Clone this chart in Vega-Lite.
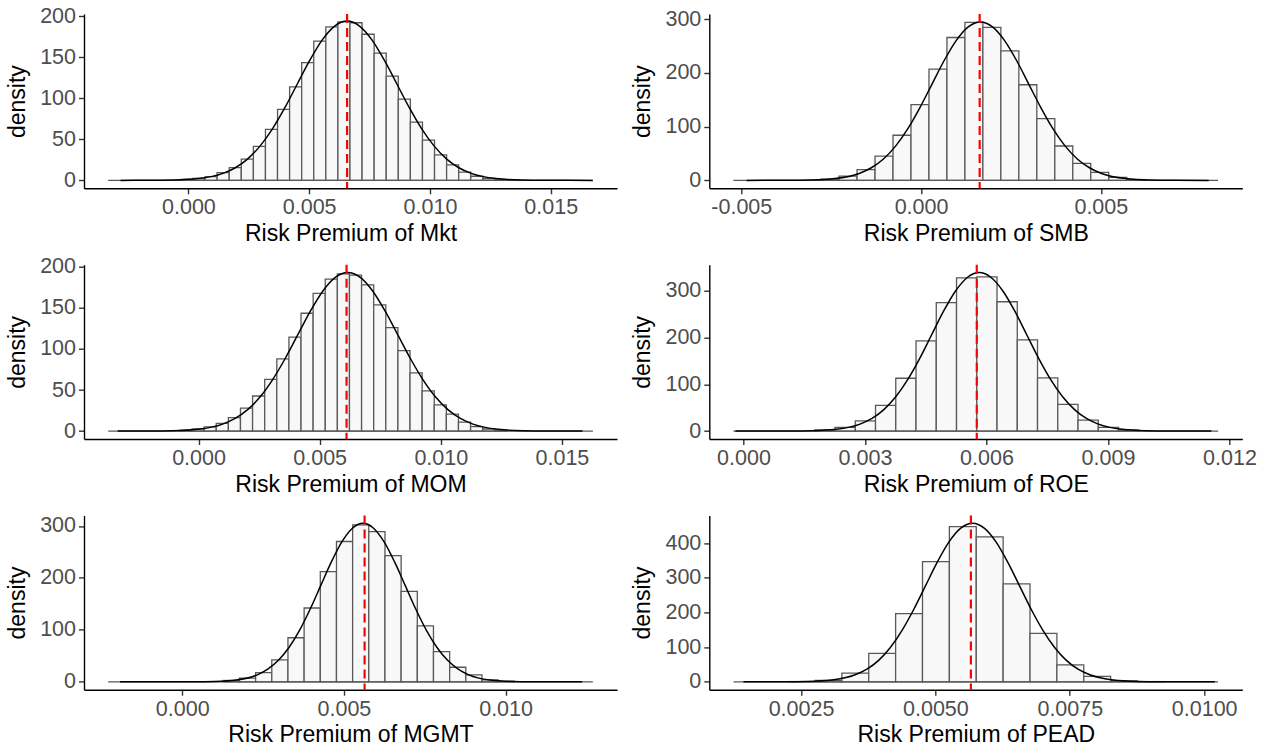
{
"$schema": "https://vega.github.io/schema/vega-lite/v6.json",
"background": "white",
"padding": {"left": 6, "top": 5, "right": 0, "bottom": 0},
"columns": 2,
"spacing": {"row": 75.7, "column": 92.3},
"bounds": "flush",
"config": {
 "view": {"stroke": null},
 "font": "Liberation Sans",
 "axis": {"grid": false, "domainColor": "#000000", "domainWidth": 1.4, "tickColor": "#333333", "tickWidth": 1.4, "tickSize": 5.5, "labelColor": "#4d4d4d", "labelFontSize": 21.5, "labelFont": "Liberation Sans", "labelPadding": 3, "labelFlush": false, "labelOverlap": false, "labelBound": false, "titleFont": "Liberation Sans", "titleFontSize": 23, "titleFontWeight": "normal", "titleColor": "#000000"},
 "axisX": {"titlePadding": 4},
 "axisY": {"titlePadding": 10}
},
"datasets": {
 "bars": [
  {"p":"Mkt","a":-0.00031,"b":0.00019,"d":1.1},{"p":"Mkt","a":0.00019,"b":0.00069,"d":2.3},{"p":"Mkt","a":0.00069,"b":0.00119,"d":4.6},{"p":"Mkt","a":0.00119,"b":0.00169,"d":9.5},{"p":"Mkt","a":0.00169,"b":0.00219,"d":15.5},{"p":"Mkt","a":0.00219,"b":0.00269,"d":26},{"p":"Mkt","a":0.00269,"b":0.00319,"d":41.5},{"p":"Mkt","a":0.00319,"b":0.00369,"d":62},{"p":"Mkt","a":0.00369,"b":0.00419,"d":86.5},{"p":"Mkt","a":0.00419,"b":0.00469,"d":114},{"p":"Mkt","a":0.00469,"b":0.00519,"d":143.5},{"p":"Mkt","a":0.00519,"b":0.00569,"d":169.5},{"p":"Mkt","a":0.00569,"b":0.00619,"d":187},{"p":"Mkt","a":0.00619,"b":0.00669,"d":193},{"p":"Mkt","a":0.00669,"b":0.00719,"d":192},{"p":"Mkt","a":0.00719,"b":0.00769,"d":178},{"p":"Mkt","a":0.00769,"b":0.00819,"d":155},{"p":"Mkt","a":0.00819,"b":0.00869,"d":127},{"p":"Mkt","a":0.00869,"b":0.00919,"d":99},{"p":"Mkt","a":0.00919,"b":0.00969,"d":71},{"p":"Mkt","a":0.00969,"b":0.01019,"d":49},{"p":"Mkt","a":0.01019,"b":0.01069,"d":31},{"p":"Mkt","a":0.01069,"b":0.01119,"d":19},{"p":"Mkt","a":0.01119,"b":0.01169,"d":10},{"p":"Mkt","a":0.01169,"b":0.01219,"d":5},{"p":"Mkt","a":0.01219,"b":0.01269,"d":2.3},{"p":"Mkt","a":0.01269,"b":0.01319,"d":1},
  {"p":"SMB","a":-0.00278,"b":-0.00228,"d":2.5},{"p":"SMB","a":-0.00228,"b":-0.00178,"d":8},{"p":"SMB","a":-0.00178,"b":-0.00128,"d":20},{"p":"SMB","a":-0.00128,"b":-0.00078,"d":45},{"p":"SMB","a":-0.00078,"b":-0.00028,"d":84},{"p":"SMB","a":-0.00028,"b":0.00022,"d":141},{"p":"SMB","a":0.00022,"b":0.00072,"d":207},{"p":"SMB","a":0.00072,"b":0.00122,"d":266},{"p":"SMB","a":0.00122,"b":0.00172,"d":294},{"p":"SMB","a":0.00172,"b":0.00222,"d":285},{"p":"SMB","a":0.00222,"b":0.00272,"d":241},{"p":"SMB","a":0.00272,"b":0.00322,"d":178},{"p":"SMB","a":0.00322,"b":0.00372,"d":115},{"p":"SMB","a":0.00372,"b":0.00422,"d":64},{"p":"SMB","a":0.00422,"b":0.00472,"d":31.5},{"p":"SMB","a":0.00472,"b":0.00522,"d":15},{"p":"SMB","a":0.00522,"b":0.00572,"d":5.5},{"p":"SMB","a":0.00572,"b":0.00622,"d":1.5},
  {"p":"MOM","a":-0.00077,"b":-0.00027,"d":1},{"p":"MOM","a":-0.00027,"b":0.00023,"d":2.5},{"p":"MOM","a":0.00023,"b":0.00073,"d":5},{"p":"MOM","a":0.00073,"b":0.00123,"d":9.5},{"p":"MOM","a":0.00123,"b":0.00173,"d":16.5},{"p":"MOM","a":0.00173,"b":0.00223,"d":28},{"p":"MOM","a":0.00223,"b":0.00273,"d":42.7},{"p":"MOM","a":0.00273,"b":0.00323,"d":63},{"p":"MOM","a":0.00323,"b":0.00373,"d":88},{"p":"MOM","a":0.00373,"b":0.00423,"d":114.5},{"p":"MOM","a":0.00423,"b":0.00473,"d":143.5},{"p":"MOM","a":0.00473,"b":0.00523,"d":167.7},{"p":"MOM","a":0.00523,"b":0.00573,"d":185},{"p":"MOM","a":0.00573,"b":0.00623,"d":191.5},{"p":"MOM","a":0.00623,"b":0.00673,"d":190},{"p":"MOM","a":0.00673,"b":0.00723,"d":178},{"p":"MOM","a":0.00723,"b":0.00773,"d":153.6},{"p":"MOM","a":0.00773,"b":0.00823,"d":126},{"p":"MOM","a":0.00823,"b":0.00873,"d":98},{"p":"MOM","a":0.00873,"b":0.00923,"d":71},{"p":"MOM","a":0.00923,"b":0.00973,"d":49},{"p":"MOM","a":0.00973,"b":0.01023,"d":32},{"p":"MOM","a":0.01023,"b":0.01073,"d":20.6},{"p":"MOM","a":0.01073,"b":0.01123,"d":11},{"p":"MOM","a":0.01123,"b":0.01173,"d":5.5},{"p":"MOM","a":0.01173,"b":0.01223,"d":2.5},{"p":"MOM","a":0.01223,"b":0.01273,"d":1},
  {"p":"ROE","a":0.00176,"b":0.00226,"d":2.5},{"p":"ROE","a":0.00226,"b":0.00276,"d":7.8},{"p":"ROE","a":0.00276,"b":0.00326,"d":22},{"p":"ROE","a":0.00326,"b":0.00376,"d":55},{"p":"ROE","a":0.00376,"b":0.00426,"d":113},{"p":"ROE","a":0.00426,"b":0.00476,"d":193},{"p":"ROE","a":0.00476,"b":0.00526,"d":274.6},{"p":"ROE","a":0.00526,"b":0.00576,"d":327.7},{"p":"ROE","a":0.00576,"b":0.00626,"d":329.8},{"p":"ROE","a":0.00626,"b":0.00676,"d":276.7},{"p":"ROE","a":0.00676,"b":0.00726,"d":195},{"p":"ROE","a":0.00726,"b":0.00776,"d":114},{"p":"ROE","a":0.00776,"b":0.00826,"d":57.3},{"p":"ROE","a":0.00826,"b":0.00876,"d":23.4},{"p":"ROE","a":0.00876,"b":0.00926,"d":7.8},{"p":"ROE","a":0.00926,"b":0.00976,"d":2.2},
  {"p":"MGMT","a":0.00127,"b":0.00177,"d":2.5},{"p":"MGMT","a":0.00177,"b":0.00227,"d":7},{"p":"MGMT","a":0.00227,"b":0.00277,"d":17.8},{"p":"MGMT","a":0.00277,"b":0.00327,"d":42},{"p":"MGMT","a":0.00327,"b":0.00377,"d":84.7},{"p":"MGMT","a":0.00377,"b":0.00427,"d":142},{"p":"MGMT","a":0.00427,"b":0.00477,"d":212},{"p":"MGMT","a":0.00477,"b":0.00527,"d":270},{"p":"MGMT","a":0.00527,"b":0.00577,"d":302},{"p":"MGMT","a":0.00577,"b":0.00627,"d":289},{"p":"MGMT","a":0.00627,"b":0.00677,"d":242.7},{"p":"MGMT","a":0.00677,"b":0.00727,"d":173.9},{"p":"MGMT","a":0.00727,"b":0.00777,"d":107.6},{"p":"MGMT","a":0.00777,"b":0.00827,"d":58},{"p":"MGMT","a":0.00827,"b":0.00877,"d":28},{"p":"MGMT","a":0.00877,"b":0.00927,"d":13.4},{"p":"MGMT","a":0.00927,"b":0.00977,"d":3.8},{"p":"MGMT","a":0.00977,"b":0.01027,"d":1.2},
  {"p":"PEAD","a":0.00226,"b":0.00276,"d":0.6},{"p":"PEAD","a":0.00276,"b":0.00326,"d":3.8},{"p":"PEAD","a":0.00326,"b":0.00376,"d":24.8},{"p":"PEAD","a":0.00376,"b":0.00426,"d":82},{"p":"PEAD","a":0.00426,"b":0.00476,"d":196.7},{"p":"PEAD","a":0.00476,"b":0.00526,"d":346.5},{"p":"PEAD","a":0.00526,"b":0.00576,"d":447.7},{"p":"PEAD","a":0.00576,"b":0.00626,"d":418},{"p":"PEAD","a":0.00626,"b":0.00676,"d":282.6},{"p":"PEAD","a":0.00676,"b":0.00726,"d":139.4},{"p":"PEAD","a":0.00726,"b":0.00776,"d":48.7},{"p":"PEAD","a":0.00776,"b":0.00826,"d":15.3},{"p":"PEAD","a":0.00826,"b":0.00876,"d":2.9},{"p":"PEAD","a":0.00876,"b":0.00926,"d":0.5}
 ],
 "dens": [
  {"p":"Mkt","x":-0.00281,"d":0},{"p":"Mkt","x":-0.001654,"d":0.065},{"p":"Mkt","x":-0.000626,"d":0.43},{"p":"Mkt","x":0.000402,"d":2.15},{"p":"Mkt","x":0.00143,"d":8.5},{"p":"Mkt","x":0.001944,"d":15.4},{"p":"Mkt","x":0.002458,"d":26.2},{"p":"Mkt","x":0.002972,"d":42},{"p":"Mkt","x":0.003486,"d":63},{"p":"Mkt","x":0.004,"d":88.8},{"p":"Mkt","x":0.004514,"d":117.7},{"p":"Mkt","x":0.005028,"d":146.4},{"p":"Mkt","x":0.005542,"d":171.2},{"p":"Mkt","x":0.006056,"d":188},{"p":"Mkt","x":0.00657,"d":194},{"p":"Mkt","x":0.007084,"d":188},{"p":"Mkt","x":0.007598,"d":171.2},{"p":"Mkt","x":0.008112,"d":146.4},{"p":"Mkt","x":0.008626,"d":117.7},{"p":"Mkt","x":0.00914,"d":88.8},{"p":"Mkt","x":0.009654,"d":63},{"p":"Mkt","x":0.010168,"d":42},{"p":"Mkt","x":0.010682,"d":26.2},{"p":"Mkt","x":0.011196,"d":15.4},{"p":"Mkt","x":0.01171,"d":8.5},{"p":"Mkt","x":0.012738,"d":2.15},{"p":"Mkt","x":0.013766,"d":0.43},{"p":"Mkt","x":0.014794,"d":0.065},{"p":"Mkt","x":0.01674,"d":0},
  {"p":"SMB","x":-0.004855,"d":0},{"p":"SMB","x":-0.003742,"d":0.1},{"p":"SMB","x":-0.003068,"d":0.65},{"p":"SMB","x":-0.002394,"d":3.3},{"p":"SMB","x":-0.00172,"d":12.9},{"p":"SMB","x":-0.001383,"d":23.5},{"p":"SMB","x":-0.001046,"d":39.9},{"p":"SMB","x":-0.000709,"d":63.8},{"p":"SMB","x":-0.000372,"d":95.8},{"p":"SMB","x":-0.000035,"d":135.1},{"p":"SMB","x":0.000302,"d":178.9},{"p":"SMB","x":0.000639,"d":222.7},{"p":"SMB","x":0.000976,"d":260.3},{"p":"SMB","x":0.001313,"d":285.9},{"p":"SMB","x":0.00165,"d":295},{"p":"SMB","x":0.001987,"d":285.9},{"p":"SMB","x":0.002324,"d":260.3},{"p":"SMB","x":0.002661,"d":222.7},{"p":"SMB","x":0.002998,"d":178.9},{"p":"SMB","x":0.003335,"d":135.1},{"p":"SMB","x":0.003672,"d":95.8},{"p":"SMB","x":0.004009,"d":63.8},{"p":"SMB","x":0.004346,"d":39.9},{"p":"SMB","x":0.004683,"d":23.5},{"p":"SMB","x":0.00502,"d":12.9},{"p":"SMB","x":0.005694,"d":3.3},{"p":"SMB","x":0.006368,"d":0.65},{"p":"SMB","x":0.007042,"d":0.1},{"p":"SMB","x":0.008,"d":0},
  {"p":"MOM","x":-0.00334,"d":0},{"p":"MOM","x":-0.002108,"d":0.065},{"p":"MOM","x":-0.001075,"d":0.42},{"p":"MOM","x":-0.000041,"d":2.14},{"p":"MOM","x":0.000992,"d":8.5},{"p":"MOM","x":0.001509,"d":15.4},{"p":"MOM","x":0.002026,"d":26.1},{"p":"MOM","x":0.002543,"d":41.7},{"p":"MOM","x":0.003059,"d":62.7},{"p":"MOM","x":0.003576,"d":88.4},{"p":"MOM","x":0.004093,"d":117.1},{"p":"MOM","x":0.00461,"d":145.7},{"p":"MOM","x":0.005126,"d":170.3},{"p":"MOM","x":0.005643,"d":187.1},{"p":"MOM","x":0.00616,"d":193},{"p":"MOM","x":0.006677,"d":187.1},{"p":"MOM","x":0.007194,"d":170.3},{"p":"MOM","x":0.00771,"d":145.7},{"p":"MOM","x":0.008227,"d":117.1},{"p":"MOM","x":0.008744,"d":88.4},{"p":"MOM","x":0.009261,"d":62.7},{"p":"MOM","x":0.009777,"d":41.7},{"p":"MOM","x":0.010294,"d":26.1},{"p":"MOM","x":0.010811,"d":15.4},{"p":"MOM","x":0.011328,"d":8.5},{"p":"MOM","x":0.012361,"d":2.14},{"p":"MOM","x":0.013395,"d":0.42},{"p":"MOM","x":0.014428,"d":0.065},{"p":"MOM","x":0.01585,"d":0},
  {"p":"ROE","x":-0.0002,"d":0},{"p":"ROE","x":0.001112,"d":0.11},{"p":"ROE","x":0.0017,"d":0.75},{"p":"ROE","x":0.002289,"d":3.76},{"p":"ROE","x":0.002877,"d":14.9},{"p":"ROE","x":0.003172,"d":27},{"p":"ROE","x":0.003466,"d":45.9},{"p":"ROE","x":0.00376,"d":73.3},{"p":"ROE","x":0.004054,"d":110.1},{"p":"ROE","x":0.004349,"d":155.2},{"p":"ROE","x":0.004643,"d":205.6},{"p":"ROE","x":0.004937,"d":255.9},{"p":"ROE","x":0.005231,"d":299.2},{"p":"ROE","x":0.005526,"d":328.6},{"p":"ROE","x":0.00582,"d":339},{"p":"ROE","x":0.006114,"d":328.6},{"p":"ROE","x":0.006409,"d":299.2},{"p":"ROE","x":0.006703,"d":255.9},{"p":"ROE","x":0.006997,"d":205.6},{"p":"ROE","x":0.007291,"d":155.2},{"p":"ROE","x":0.007586,"d":110.1},{"p":"ROE","x":0.00788,"d":73.3},{"p":"ROE","x":0.008174,"d":45.9},{"p":"ROE","x":0.008468,"d":27},{"p":"ROE","x":0.008763,"d":14.9},{"p":"ROE","x":0.009351,"d":3.76},{"p":"ROE","x":0.00994,"d":0.75},{"p":"ROE","x":0.010528,"d":0.11},{"p":"ROE","x":0.01155,"d":0},
  {"p":"MGMT","x":-0.001923,"d":0},{"p":"MGMT","x":0.000358,"d":0.1},{"p":"MGMT","x":0.001012,"d":0.67},{"p":"MGMT","x":0.001666,"d":3.39},{"p":"MGMT","x":0.00232,"d":13.4},{"p":"MGMT","x":0.002647,"d":24.3},{"p":"MGMT","x":0.002974,"d":41.3},{"p":"MGMT","x":0.003301,"d":66},{"p":"MGMT","x":0.003628,"d":99},{"p":"MGMT","x":0.003955,"d":139.6},{"p":"MGMT","x":0.004282,"d":185},{"p":"MGMT","x":0.004609,"d":230.2},{"p":"MGMT","x":0.004936,"d":269.2},{"p":"MGMT","x":0.005263,"d":295.6},{"p":"MGMT","x":0.00559,"d":305},{"p":"MGMT","x":0.005917,"d":295.6},{"p":"MGMT","x":0.006244,"d":269.2},{"p":"MGMT","x":0.006571,"d":230.2},{"p":"MGMT","x":0.006898,"d":185},{"p":"MGMT","x":0.007225,"d":139.6},{"p":"MGMT","x":0.007552,"d":99},{"p":"MGMT","x":0.007879,"d":66},{"p":"MGMT","x":0.008206,"d":41.3},{"p":"MGMT","x":0.008533,"d":24.3},{"p":"MGMT","x":0.00886,"d":13.4},{"p":"MGMT","x":0.009514,"d":3.39},{"p":"MGMT","x":0.010168,"d":0.67},{"p":"MGMT","x":0.010822,"d":0.1},{"p":"MGMT","x":0.01237,"d":0},
  {"p":"PEAD","x":0.001429,"d":0},{"p":"PEAD","x":0.002198,"d":0.15},{"p":"PEAD","x":0.002634,"d":1},{"p":"PEAD","x":0.003071,"d":5.07},{"p":"PEAD","x":0.003507,"d":20.1},{"p":"PEAD","x":0.003726,"d":36.4},{"p":"PEAD","x":0.003944,"d":61.8},{"p":"PEAD","x":0.004162,"d":98.8},{"p":"PEAD","x":0.00438,"d":148.4},{"p":"PEAD","x":0.004599,"d":209.2},{"p":"PEAD","x":0.004817,"d":277.2},{"p":"PEAD","x":0.005035,"d":344.9},{"p":"PEAD","x":0.005253,"d":403.3},{"p":"PEAD","x":0.005472,"d":442.9},{"p":"PEAD","x":0.00569,"d":457},{"p":"PEAD","x":0.005908,"d":442.9},{"p":"PEAD","x":0.006127,"d":403.3},{"p":"PEAD","x":0.006345,"d":344.9},{"p":"PEAD","x":0.006563,"d":277.2},{"p":"PEAD","x":0.006781,"d":209.2},{"p":"PEAD","x":0.007,"d":148.4},{"p":"PEAD","x":0.007218,"d":98.8},{"p":"PEAD","x":0.007436,"d":61.8},{"p":"PEAD","x":0.007654,"d":36.4},{"p":"PEAD","x":0.007873,"d":20.1},{"p":"PEAD","x":0.008309,"d":5.07},{"p":"PEAD","x":0.008746,"d":1},{"p":"PEAD","x":0.009182,"d":0.15},{"p":"PEAD","x":0.010198,"d":0}
 ],
 "meta": [
  {"p":"Mkt","lo":-0.00332,"hi":0.01674,"m":0.00657},
  {"p":"SMB","lo":-0.00522,"hi":0.00826,"m":0.00163},
  {"p":"MOM","lo":-0.00373,"hi":0.01628,"m":0.00611},
  {"p":"ROE","lo":-0.00025,"hi":0.01172,"m":0.00576},
  {"p":"MGMT","lo":-0.00229,"hi":0.0127,"m":0.00564},
  {"p":"PEAD","lo":0.001245,"hi":0.010258,"m":0.00566}
 ]
},
"concat": [
 {"width": 533, "height": 174.3, "layer": [
  {"data": {"name": "bars"}, "transform": [{"filter": "datum.p === 'Mkt'"}], "mark": {"type": "rect", "fill": "#f8f8f8", "stroke": "#595959", "strokeWidth": 1.3},
   "encoding": {"x": {"field": "a", "type": "quantitative", "title": "Risk Premium of Mkt", "scale": {"domain": [-0.004322, 0.017744], "nice": false, "zero": false}, "axis": {"values": [0, 0.005, 0.01, 0.015], "format": ".3f"}}, "x2": {"field": "b"},
    "y": {"field": "d", "type": "quantitative", "title": "density", "scale": {"domain": [-9.65, 202.65], "nice": false, "zero": false}, "axis": {"values": [0, 50, 100, 150, 200]}}, "y2": {"datum": 0}}},
  {"data": {"name": "meta"}, "transform": [{"filter": "datum.p === 'Mkt'"}], "mark": {"type": "rule", "color": "#595959", "strokeWidth": 1.3}, "encoding": {"x": {"field": "lo", "type": "quantitative"}, "x2": {"field": "hi"}, "y": {"datum": 0, "type": "quantitative"}}},
  {"data": {"name": "dens"}, "transform": [{"filter": "datum.p === 'Mkt'"}], "mark": {"type": "line", "color": "#000000", "strokeWidth": 1.5, "interpolate": "monotone"}, "encoding": {"x": {"field": "x", "type": "quantitative"}, "y": {"field": "d", "type": "quantitative"}}},
  {"data": {"name": "meta"}, "transform": [{"filter": "datum.p === 'Mkt'"}], "mark": {"type": "rule", "color": "#ff0000", "strokeWidth": 2.2, "strokeDash": [9, 5]}, "encoding": {"x": {"field": "m", "type": "quantitative"}}}
 ]},
 {"width": 533, "height": 174.3, "layer": [
  {"data": {"name": "bars"}, "transform": [{"filter": "datum.p === 'SMB'"}], "mark": {"type": "rect", "fill": "#f8f8f8", "stroke": "#595959", "strokeWidth": 1.3},
   "encoding": {"x": {"field": "a", "type": "quantitative", "title": "Risk Premium of SMB", "scale": {"domain": [-0.00589, 0.008935], "nice": false, "zero": false}, "axis": {"values": [-0.005, 0, 0.005], "labelExpr": "datum.value < 0 ? '-' + format(-datum.value, '.3f') : format(datum.value, '.3f')"}}, "x2": {"field": "b"},
    "y": {"field": "d", "type": "quantitative", "title": "density", "scale": {"domain": [-14.75, 309.75], "nice": false, "zero": false}, "axis": {"values": [0, 100, 200, 300]}}, "y2": {"datum": 0}}},
  {"data": {"name": "meta"}, "transform": [{"filter": "datum.p === 'SMB'"}], "mark": {"type": "rule", "color": "#595959", "strokeWidth": 1.3}, "encoding": {"x": {"field": "lo", "type": "quantitative"}, "x2": {"field": "hi"}, "y": {"datum": 0, "type": "quantitative"}}},
  {"data": {"name": "dens"}, "transform": [{"filter": "datum.p === 'SMB'"}], "mark": {"type": "line", "color": "#000000", "strokeWidth": 1.5, "interpolate": "monotone"}, "encoding": {"x": {"field": "x", "type": "quantitative"}, "y": {"field": "d", "type": "quantitative"}}},
  {"data": {"name": "meta"}, "transform": [{"filter": "datum.p === 'SMB'"}], "mark": {"type": "rule", "color": "#ff0000", "strokeWidth": 2.2, "strokeDash": [9, 5]}, "encoding": {"x": {"field": "m", "type": "quantitative"}}}
 ]},
 {"width": 533, "height": 174.3, "layer": [
  {"data": {"name": "bars"}, "transform": [{"filter": "datum.p === 'MOM'"}], "mark": {"type": "rect", "fill": "#f8f8f8", "stroke": "#595959", "strokeWidth": 1.3},
   "encoding": {"x": {"field": "a", "type": "quantitative", "title": "Risk Premium of MOM", "scale": {"domain": [-0.00473, 0.017275], "nice": false, "zero": false}, "axis": {"values": [0, 0.005, 0.01, 0.015], "format": ".3f"}}, "x2": {"field": "b"},
    "y": {"field": "d", "type": "quantitative", "title": "density", "scale": {"domain": [-9.65, 202.65], "nice": false, "zero": false}, "axis": {"values": [0, 50, 100, 150, 200]}}, "y2": {"datum": 0}}},
  {"data": {"name": "meta"}, "transform": [{"filter": "datum.p === 'MOM'"}], "mark": {"type": "rule", "color": "#595959", "strokeWidth": 1.3}, "encoding": {"x": {"field": "lo", "type": "quantitative"}, "x2": {"field": "hi"}, "y": {"datum": 0, "type": "quantitative"}}},
  {"data": {"name": "dens"}, "transform": [{"filter": "datum.p === 'MOM'"}], "mark": {"type": "line", "color": "#000000", "strokeWidth": 1.5, "interpolate": "monotone"}, "encoding": {"x": {"field": "x", "type": "quantitative"}, "y": {"field": "d", "type": "quantitative"}}},
  {"data": {"name": "meta"}, "transform": [{"filter": "datum.p === 'MOM'"}], "mark": {"type": "rule", "color": "#ff0000", "strokeWidth": 2.2, "strokeDash": [9, 5]}, "encoding": {"x": {"field": "m", "type": "quantitative"}}}
 ]},
 {"width": 533, "height": 174.3, "layer": [
  {"data": {"name": "bars"}, "transform": [{"filter": "datum.p === 'ROE'"}], "mark": {"type": "rect", "fill": "#f8f8f8", "stroke": "#595959", "strokeWidth": 1.3},
   "encoding": {"x": {"field": "a", "type": "quantitative", "title": "Risk Premium of ROE", "scale": {"domain": [-0.000844, 0.012316], "nice": false, "zero": false}, "axis": {"values": [0, 0.003, 0.006, 0.009, 0.012], "format": ".3f"}}, "x2": {"field": "b"},
    "y": {"field": "d", "type": "quantitative", "title": "density", "scale": {"domain": [-16.95, 355.95], "nice": false, "zero": false}, "axis": {"values": [0, 100, 200, 300]}}, "y2": {"datum": 0}}},
  {"data": {"name": "meta"}, "transform": [{"filter": "datum.p === 'ROE'"}], "mark": {"type": "rule", "color": "#595959", "strokeWidth": 1.3}, "encoding": {"x": {"field": "lo", "type": "quantitative"}, "x2": {"field": "hi"}, "y": {"datum": 0, "type": "quantitative"}}},
  {"data": {"name": "dens"}, "transform": [{"filter": "datum.p === 'ROE'"}], "mark": {"type": "line", "color": "#000000", "strokeWidth": 1.5, "interpolate": "monotone"}, "encoding": {"x": {"field": "x", "type": "quantitative"}, "y": {"field": "d", "type": "quantitative"}}},
  {"data": {"name": "meta"}, "transform": [{"filter": "datum.p === 'ROE'"}], "mark": {"type": "rule", "color": "#ff0000", "strokeWidth": 2.2, "strokeDash": [9, 5]}, "encoding": {"x": {"field": "m", "type": "quantitative"}}}
 ]},
 {"width": 533, "height": 174.3, "layer": [
  {"data": {"name": "bars"}, "transform": [{"filter": "datum.p === 'MGMT'"}], "mark": {"type": "rect", "fill": "#f8f8f8", "stroke": "#595959", "strokeWidth": 1.3},
   "encoding": {"x": {"field": "a", "type": "quantitative", "title": "Risk Premium of MGMT", "scale": {"domain": [-0.003037, 0.013445], "nice": false, "zero": false}, "axis": {"values": [0, 0.005, 0.01], "format": ".3f"}}, "x2": {"field": "b"},
    "y": {"field": "d", "type": "quantitative", "title": "density", "scale": {"domain": [-15.25, 320.25], "nice": false, "zero": false}, "axis": {"values": [0, 100, 200, 300]}}, "y2": {"datum": 0}}},
  {"data": {"name": "meta"}, "transform": [{"filter": "datum.p === 'MGMT'"}], "mark": {"type": "rule", "color": "#595959", "strokeWidth": 1.3}, "encoding": {"x": {"field": "lo", "type": "quantitative"}, "x2": {"field": "hi"}, "y": {"datum": 0, "type": "quantitative"}}},
  {"data": {"name": "dens"}, "transform": [{"filter": "datum.p === 'MGMT'"}], "mark": {"type": "line", "color": "#000000", "strokeWidth": 1.5, "interpolate": "monotone"}, "encoding": {"x": {"field": "x", "type": "quantitative"}, "y": {"field": "d", "type": "quantitative"}}},
  {"data": {"name": "meta"}, "transform": [{"filter": "datum.p === 'MGMT'"}], "mark": {"type": "rule", "color": "#ff0000", "strokeWidth": 2.2, "strokeDash": [9, 5]}, "encoding": {"x": {"field": "m", "type": "quantitative"}}}
 ]},
 {"width": 533, "height": 174.3, "layer": [
  {"data": {"name": "bars"}, "transform": [{"filter": "datum.p === 'PEAD'"}], "mark": {"type": "rect", "fill": "#f8f8f8", "stroke": "#595959", "strokeWidth": 1.3},
   "encoding": {"x": {"field": "a", "type": "quantitative", "title": "Risk Premium of PEAD", "scale": {"domain": [0.000794, 0.010709], "nice": false, "zero": false}, "axis": {"values": [0.0025, 0.005, 0.0075, 0.01], "format": ".4f"}}, "x2": {"field": "b"},
    "y": {"field": "d", "type": "quantitative", "title": "density", "scale": {"domain": [-22.85, 479.85], "nice": false, "zero": false}, "axis": {"values": [0, 100, 200, 300, 400]}}, "y2": {"datum": 0}}},
  {"data": {"name": "meta"}, "transform": [{"filter": "datum.p === 'PEAD'"}], "mark": {"type": "rule", "color": "#595959", "strokeWidth": 1.3}, "encoding": {"x": {"field": "lo", "type": "quantitative"}, "x2": {"field": "hi"}, "y": {"datum": 0, "type": "quantitative"}}},
  {"data": {"name": "dens"}, "transform": [{"filter": "datum.p === 'PEAD'"}], "mark": {"type": "line", "color": "#000000", "strokeWidth": 1.5, "interpolate": "monotone"}, "encoding": {"x": {"field": "x", "type": "quantitative"}, "y": {"field": "d", "type": "quantitative"}}},
  {"data": {"name": "meta"}, "transform": [{"filter": "datum.p === 'PEAD'"}], "mark": {"type": "rule", "color": "#ff0000", "strokeWidth": 2.2, "strokeDash": [9, 5]}, "encoding": {"x": {"field": "m", "type": "quantitative"}}}
 ]}
]
}
